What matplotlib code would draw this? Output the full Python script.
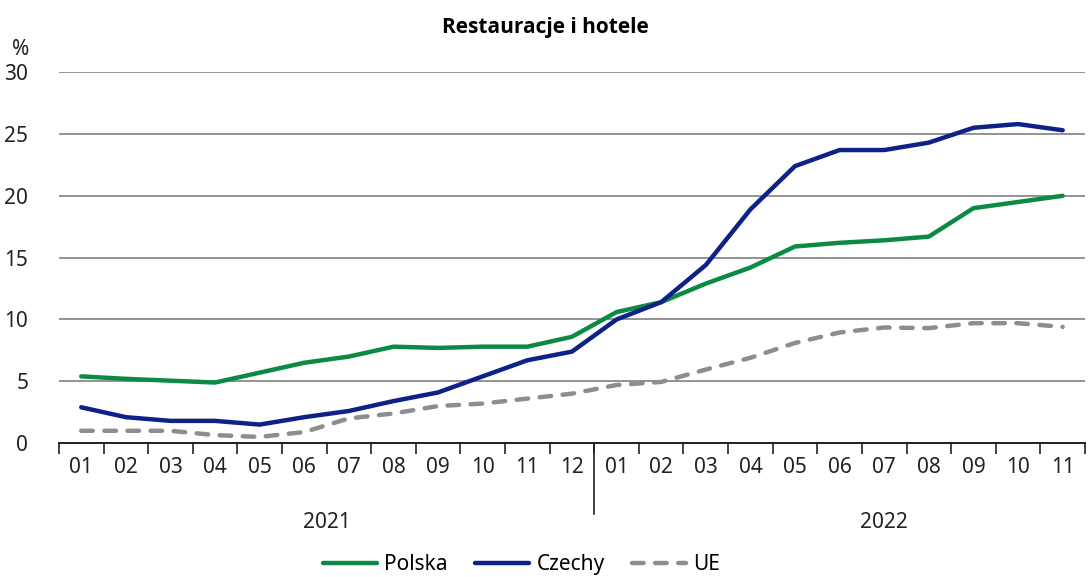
import matplotlib
matplotlib.use('Agg')
import matplotlib.pyplot as plt
from matplotlib.lines import Line2D
import numpy as np

plt.rcParams['font.family'] = ['Noto Sans', 'DejaVu Sans']

# data (y/y change, %)
months = ['01', '02', '03', '04', '05', '06', '07', '08', '09', '10', '11', '12',
          '01', '02', '03', '04', '05', '06', '07', '08', '09', '10', '11']
years = ['2021', '2022']

polska = [5.4, 5.2, 5.05, 4.9, 5.7, 6.5, 7.0, 7.8, 7.7, 7.8, 7.8, 8.6,
          10.6, 11.4, 12.9, 14.2, 15.9, 16.2, 16.4, 16.7, 19.0, 19.5, 20.0]
czechy = [2.9, 2.1, 1.8, 1.8, 1.5, 2.1, 2.6, 3.4, 4.1, 5.4, 6.7, 7.4,
          10.0, 11.4, 14.4, 18.9, 22.4, 23.7, 23.7, 24.3, 25.5, 25.8, 25.3]
ue = [1.0, 1.0, 1.0, 0.65, 0.5, 0.9, 2.0, 2.4, 3.0, 3.2, 3.6, 4.0,
      4.7, 4.95, 5.95, 6.9, 8.1, 8.95, 9.35, 9.3, 9.7, 9.7, 9.4]

green = '#0b8a45'
navy = '#0c2288'
grey = '#8d8d8d'

fig = plt.figure(figsize=(10.91, 5.77), dpi=100)
ax = fig.add_axes([0.054, 0.232, 0.9405, 0.643])

x = np.arange(len(months))
ax.plot(x, polska, color=green, lw=3.2, label='Polska', solid_capstyle='round')
ax.plot(x, czechy, color=navy, lw=3.2, label='Czechy', solid_capstyle='round')
ax.plot(x, ue, color=grey, lw=3.2, ls=(0, (2.6, 2.6)), label='UE', dash_capstyle='round')

ax.set_xlim(-0.5, len(months) - 0.5)
ax.set_ylim(0, 30)
ax.set_yticks([0, 5, 10, 15, 20, 25, 30])
ax.yaxis.grid(True, color='#8a8a8a', lw=1.3)
ax.set_axisbelow(True)
ax.tick_params(axis='y', length=0, pad=22, labelsize=15, labelcolor='#222222')

# ticks at month boundaries, labels at centres
ax.set_xticks(np.arange(-0.5, len(months) + 0.5, 1))
ax.set_xticklabels([])
ax.set_xticks(x, minor=True)
ax.set_xticklabels(months, minor=True)
ax.tick_params(axis='x', which='major', length=8, width=1.2, direction='out', color='#222222')
ax.tick_params(axis='x', which='minor', length=0, pad=10, labelsize=15, labelcolor='#222222')

for s in ['top', 'right', 'left']:
    ax.spines[s].set_visible(False)
ax.spines['bottom'].set_linewidth(1.4)
ax.spines['bottom'].set_color('#222222')

# year separator and year labels
trans = ax.get_xaxis_transform()
ax.add_line(Line2D([11.5, 11.5], [0, -0.19], transform=trans, color='#222222', lw=1.2, clip_on=False))
ax.text(5.5, -0.215, years[0], transform=trans, ha='center', va='center', fontsize=15, color='#222222')
ax.text(18.0, -0.215, years[1], transform=trans, ha='center', va='center', fontsize=15, color='#222222')

ax.text(-0.046, 1.062, '%', transform=ax.transAxes, ha='left', va='center', fontsize=15, color='#222222')

fig.text(0.5, 0.953, 'Restauracje i hotele', ha='center', va='center', fontsize=15,
         fontweight='bold', family=['Open Sans', 'DejaVu Sans'])

fig.legend(loc='center', bbox_to_anchor=(0.478, 0.022), ncol=3, frameon=False, fontsize=15,
           handlelength=2.6, handletextpad=0.35, columnspacing=1.3)

fig.savefig('out.png', dpi=100)
